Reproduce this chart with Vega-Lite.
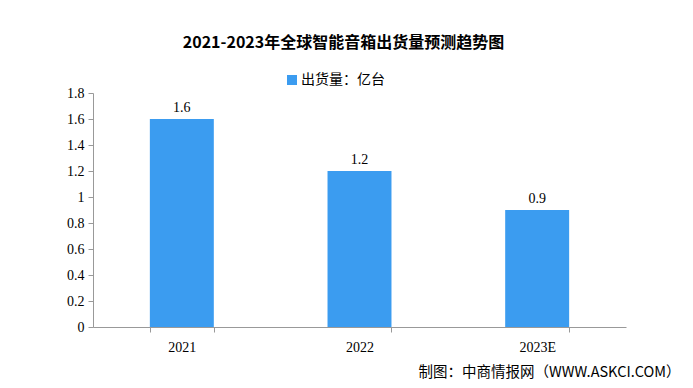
{
  "$schema": "https://vega.github.io/schema/vega-lite/v6.json",
  "width": 533,
  "height": 234,
  "autosize": {"type": "none"},
  "padding": {"left": 93, "top": 93, "right": 67, "bottom": 61},
  "background": "white",
  "config": {"view": {"stroke": null}},
  "title": {
    "text": "2021-2023年全球智能音箱出货量预测趋势图",
    "font": "Noto Sans CJK SC",
    "fontSize": 16,
    "fontWeight": "bold",
    "color": "#000000",
    "anchor": "middle",
    "dx": -16,
    "offset": 22
  },
  "data": {
    "values": [
      {"year": "2021", "value": 1.6, "series": "出货量：亿台"},
      {"year": "2022", "value": 1.2, "series": "出货量：亿台"},
      {"year": "2023E", "value": 0.9, "series": "出货量：亿台"}
    ]
  },
  "encoding": {
    "x": {
      "field": "year",
      "type": "nominal",
      "sort": null,
      "scale": {"paddingInner": 0.64, "paddingOuter": 0.32},
      "axis": {
        "title": "制图：中商情报网（WWW.ASKCI.COM）",
        "titleFont": "Noto Sans CJK SC",
        "titleFontSize": 14.5,
        "titleFontWeight": "normal",
        "titleColor": "#000000",
        "titleAlign": "right",
        "titleAnchor": null,
        "titleX": 587,
        "titleY": 38,
        "labelAngle": 0,
        "labelFont": "Liberation Serif",
        "labelFontSize": 14,
        "labelColor": "#000000",
        "labelPadding": 8,
        "tickBand": "extent",
        "tickSize": 5,
        "tickColor": "#999999",
        "domainColor": "#999999"
      }
    },
    "y": {
      "field": "value",
      "type": "quantitative",
      "scale": {"domain": [0, 1.8], "nice": false},
      "axis": {
        "title": null,
        "values": [0, 0.2, 0.4, 0.6, 0.8, 1, 1.2, 1.4, 1.6, 1.8],
        "format": "~g",
        "grid": false,
        "labelFont": "Liberation Serif",
        "labelFontSize": 14,
        "labelColor": "#000000",
        "labelPadding": 4,
        "tickSize": 5,
        "tickColor": "#999999",
        "domainColor": "#999999"
      }
    }
  },
  "layer": [
    {
      "mark": {"type": "bar"},
      "encoding": {
        "color": {
          "field": "series",
          "type": "nominal",
          "scale": {"range": ["#3b9cf0"]},
          "legend": {
            "title": null,
            "orient": "none",
            "legendX": 192,
            "legendY": -20,
            "symbolType": "square",
            "symbolSize": 100,
            "labelFont": "Noto Sans CJK SC",
            "labelFontSize": 14,
            "labelColor": "#000000",
            "labelOffset": 2
          }
        }
      }
    },
    {
      "mark": {"type": "text", "dy": -11, "font": "Liberation Serif", "fontSize": 14, "color": "#000000"},
      "encoding": {
        "text": {"field": "value", "type": "quantitative", "format": ".1f"}
      }
    }
  ]
}
